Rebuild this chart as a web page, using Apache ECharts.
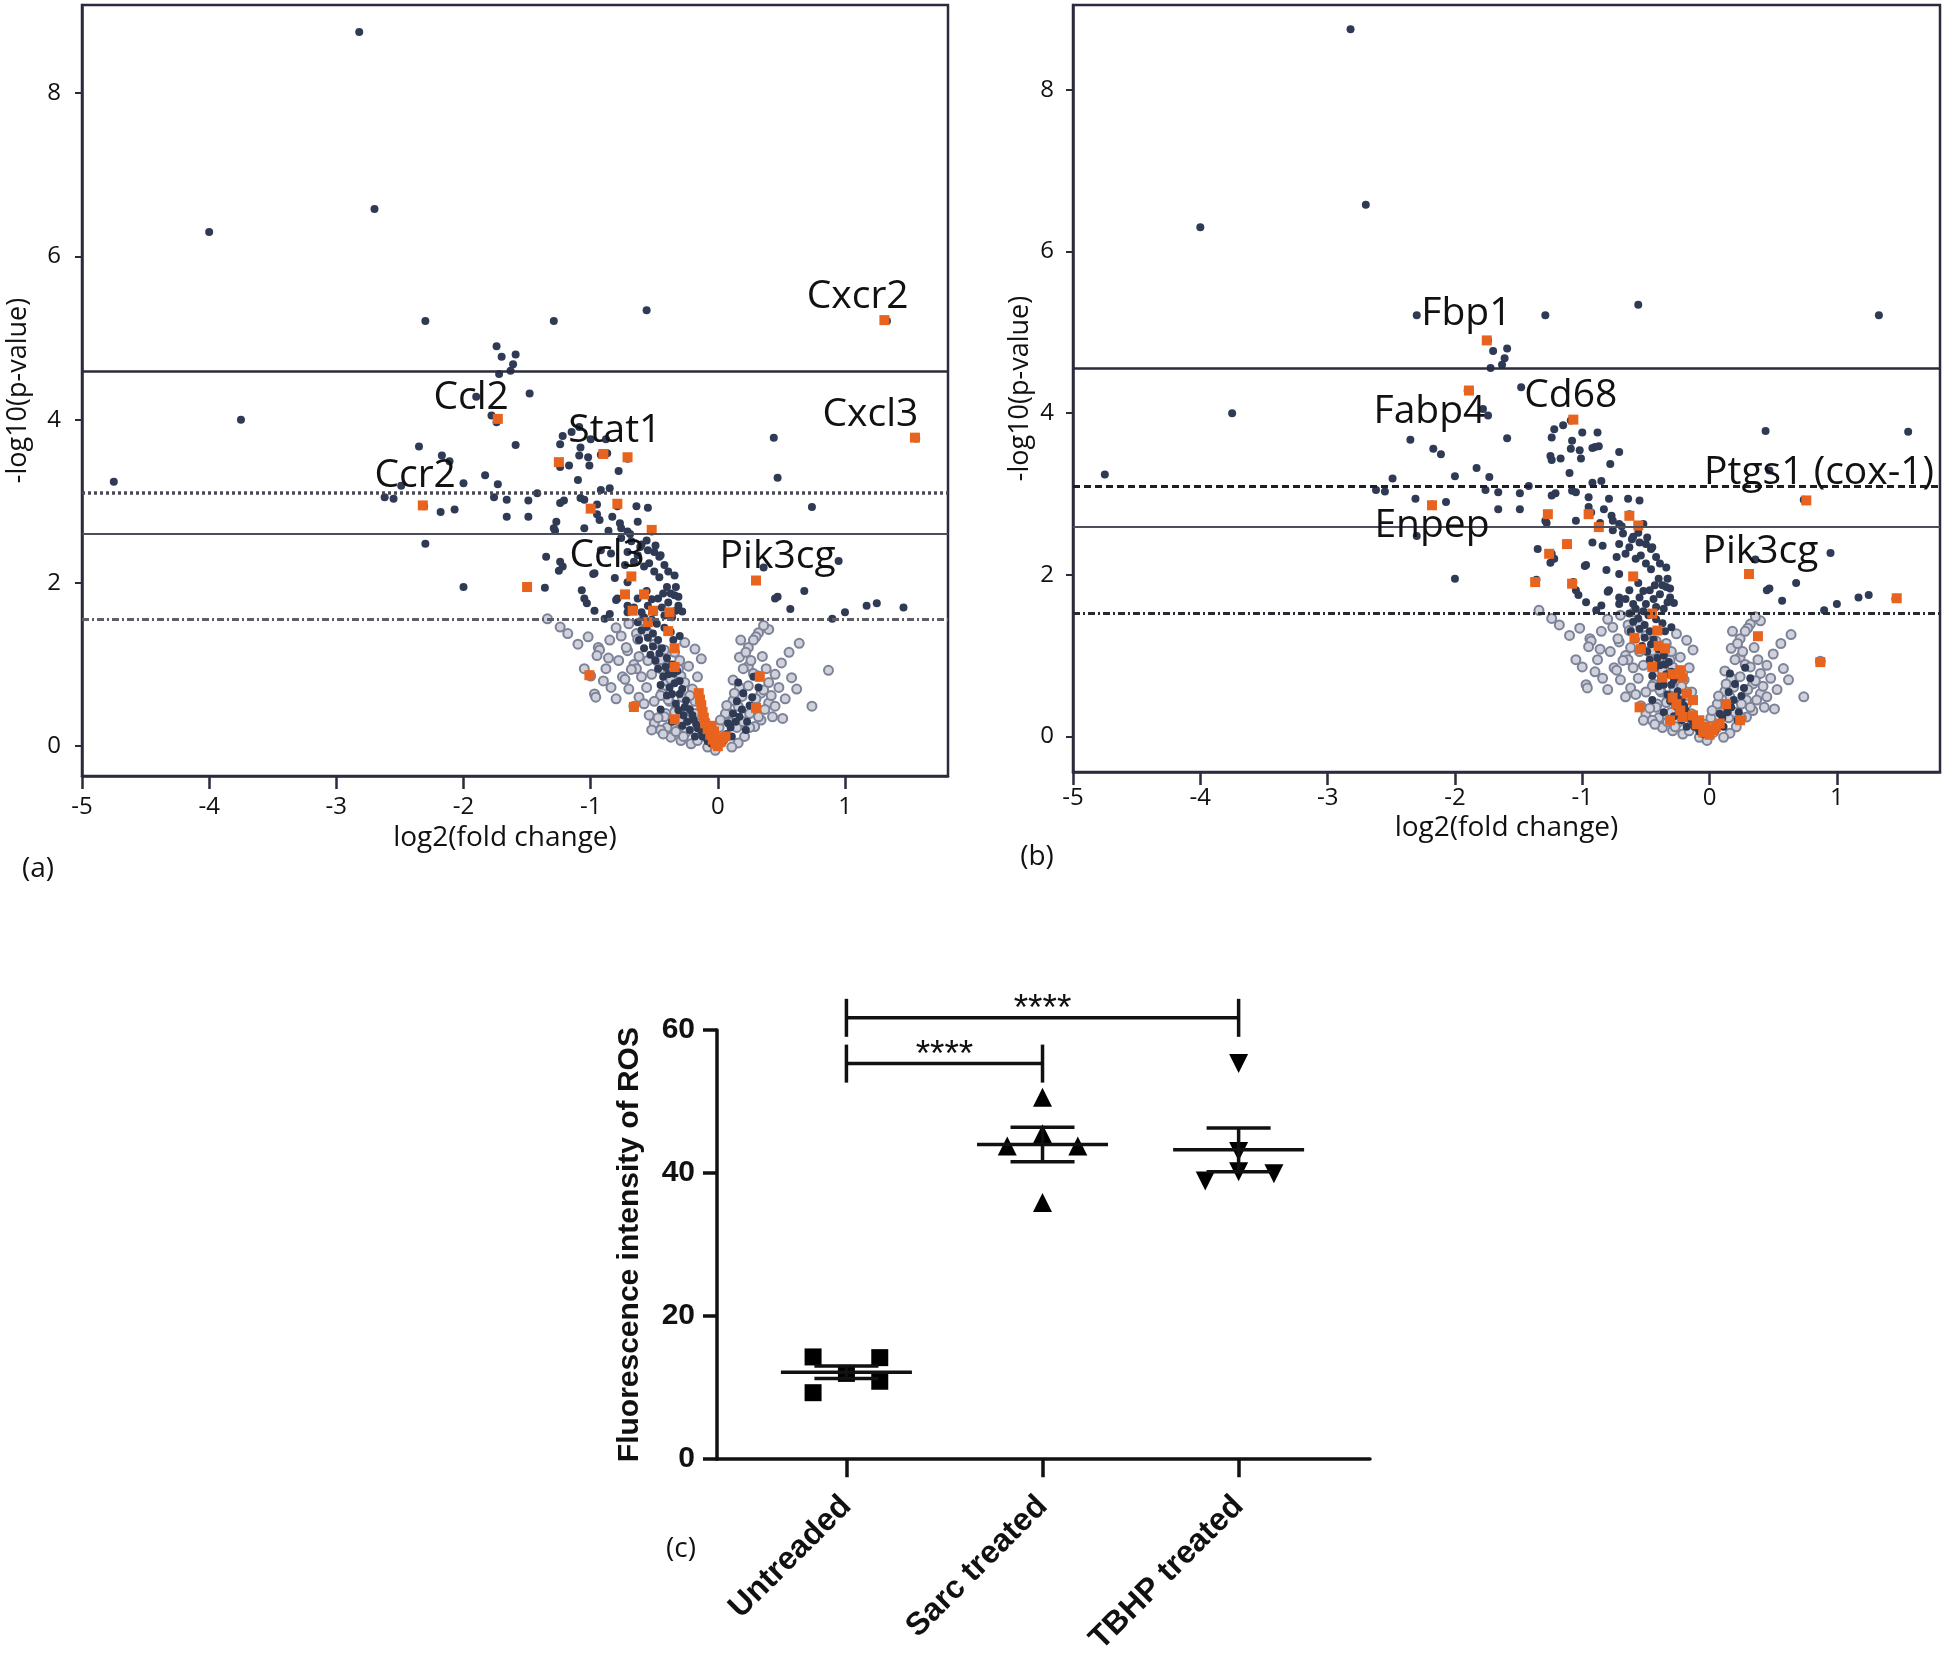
<!DOCTYPE html>
<html><head><meta charset="utf-8">
<script src="https://cdn.jsdelivr.net/npm/echarts@6/dist/echarts.min.js"></script>
<style>html,body{margin:0;padding:0;background:#fff}#c{width:1946px;height:1658px}</style>
</head><body><div id="c"></div>
<script>
// ---------- volcano data (shared gene set) ----------
const sigGenes = [
[-2.82,8.75],[-2.70,6.58],[-4.00,6.30],[-2.30,5.21],[-1.29,5.21],[-0.56,5.34],[1.33,5.21],
[-1.74,4.90],[-1.70,4.77],[-1.59,4.80],[-1.61,4.68],[-1.63,4.60],[-1.72,4.56],
[-1.48,4.32],[-1.90,4.28],[-1.78,4.05],[-1.74,3.97],[-3.75,4.00],[-4.75,3.24],[1.56,3.77],
[-1.59,3.69],[-2.35,3.67],[-2.17,3.56],[-2.11,3.49],[-2.00,3.22],[-1.83,3.32],[-1.73,3.21],
[-2.62,3.05],[-2.49,3.19],[-2.55,3.03],[-2.31,2.94],[-2.18,2.87],[-2.07,2.90],[-2.30,2.48],[-2.00,1.95],
[-1.76,3.05],[-1.66,3.02],[-1.49,3.01],[-1.42,3.10],[-1.66,2.81],[-1.49,2.81],[-1.27,2.75],[-1.28,2.64],
[-1.22,3.80],[-1.24,3.70],[-1.09,3.91],[-1.00,3.76],[-1.15,3.85],[-0.88,3.76],
[-1.25,3.47],[-1.17,3.44],[-1.09,3.56],[-1.02,3.54],[-1.01,3.44],[-0.90,3.58],[-0.71,3.52],[-0.87,3.59],[-1.24,3.42],[-1.08,3.66],[-0.92,3.57],
[-0.78,3.37],[-1.10,3.26],[-0.92,3.14],[-0.85,3.16],[-1.05,3.02],[-1.21,3.01],[-0.64,2.94],[-0.55,2.92],[-0.79,2.94],[-0.95,2.96],[-1.24,2.98],[-1.08,3.04],
[-0.93,2.77],[-0.83,2.81],[-0.77,2.73],[-0.63,2.75],[-0.86,2.64],[-0.69,2.60],[-0.56,2.52],[-0.95,2.84],[-1.05,2.67],[-1.29,2.67],[-0.76,2.67],[-0.71,2.63],[-0.52,2.63],[-0.76,2.55],[-0.68,2.51],[-0.60,2.47],[-0.55,2.40],
[-1.35,2.32],[-1.24,2.26],[-0.98,2.11],[-0.81,2.06],[-0.50,2.38],[-0.46,2.32],[-0.84,2.36],[-0.71,2.38],[-0.63,2.34],[-0.45,2.34],[-0.73,2.22],[-0.66,2.26],[-0.58,2.20],[-0.50,2.14],[-0.39,2.14],[-0.34,2.09],[-0.71,2.01],[-0.97,2.12],[-1.22,2.20],[-0.92,2.40],[-0.61,2.44],[-0.49,2.46],[-0.54,2.24],[-1.25,2.15],[-0.42,2.22],
[-1.36,1.94],[-1.07,1.91],[-1.03,1.75],[-0.85,1.62],[-1.05,1.81],[-0.97,1.66],[-0.89,1.56],[-0.79,1.81],[-0.71,1.72],[-0.63,1.81],[-0.55,1.72],[-0.47,1.81],[-0.39,1.76],[-0.34,1.85],[-0.71,1.64],[-0.60,1.64],[-0.50,1.64],[-0.42,1.60],[-0.31,1.72],[-0.63,1.52],[-0.46,2.07],[-0.43,1.87],[-0.37,1.87],[-0.31,1.83],[-0.33,1.66],[-0.33,1.95],[-0.80,1.79],[-0.56,1.90],[-0.52,1.80],[-0.44,1.70],[-0.66,1.70],[-0.58,1.58],[-0.36,1.58],[-0.28,1.65],[-0.40,1.95],
[0.44,3.78],[0.47,3.29],[0.74,2.93],[0.95,2.27],[0.36,2.19],[0.47,1.83],[0.68,1.90],[0.57,1.68],[0.90,1.56],[1.00,1.64],[1.17,1.72],[1.25,1.75],[1.46,1.70],[0.45,1.81],
[-0.56,1.46],[-0.51,1.38],[-0.62,1.30],[-0.51,1.22],[-0.46,1.14],[-0.49,1.05],[-0.41,0.97],[-0.35,0.89],[-0.43,0.85],[-0.38,0.72],[-0.30,0.64],[-0.25,0.56],[-0.33,0.52],[-0.22,0.45],[-0.27,0.38],[-0.19,0.32],[-0.16,0.22],[-0.22,0.20],[-0.12,0.12],[-0.08,0.06],[-0.30,0.80],[-0.40,0.62],[-0.45,0.45],[-0.36,0.30],[-0.28,0.25],[-0.35,1.30],[-0.42,1.45],
[-0.60,1.42],[-0.55,1.33],[-0.47,1.30],[-0.58,1.20],[-0.53,1.12],[-0.44,1.20],[-0.40,1.08],[-0.47,0.95],[-0.36,1.00],[-0.32,0.92],[-0.39,0.88],[-0.45,0.75],[-0.34,0.77],[-0.28,0.70],[-0.36,0.64],[-0.26,0.48],[-0.31,0.44],[-0.20,0.38],[-0.24,0.30],[-0.17,0.27],[-0.13,0.18],[-0.18,0.12],[-0.09,0.10],[-0.05,0.03],[-0.48,1.50],[-0.37,1.40],[-0.30,1.35],[-0.52,1.55],
[0.12,0.40],[0.17,0.36],[0.23,0.30],[0.10,0.23],[0.07,0.15],[0.15,0.55],[0.28,0.85],[0.20,0.65],[0.05,0.08],
[0.14,0.30],[0.19,0.45],[0.25,0.50],[0.22,0.20],[0.08,0.28],[0.11,0.12],[0.27,0.60],[0.32,0.72],[0.16,0.78]
];
const nsGenes = [
[-1.24,1.46],[-1.18,1.38],[-1.02,1.34],[-0.94,1.21],[-0.93,1.18],[-0.71,1.17],[-0.75,0.85],[-0.84,0.72],[-0.97,0.64],[-0.96,0.60],[-0.56,0.72],[-0.54,0.38],[-0.64,1.38],[-0.59,1.54],[-0.88,0.95],[-0.80,1.45],[-0.70,1.50],[-0.62,1.10],[-0.66,1.00],[-0.50,1.25],[-0.48,1.05],[-0.45,0.95],[-0.52,0.88],[-0.40,0.80],[-0.44,0.65],[-0.38,0.55],[-0.33,0.45],[-0.41,0.40],[-0.30,0.30],[-0.35,0.22],[-0.25,0.17],[-0.22,0.35],[-0.28,0.60],[-0.62,0.60],[-0.73,0.82],[-0.64,0.95],[-0.72,1.21],[-0.40,0.23],[-1.34,1.56],[-0.95,1.11],[-1.00,0.86],[-0.68,0.94],[-0.66,0.49],[-0.63,1.31],[-0.55,1.39],[-0.45,1.06],[-0.39,0.98],[-0.34,1.15],[-0.26,1.27],[-0.18,1.19],[-0.13,1.07],[-0.23,0.98],[-0.29,0.86],[-0.37,0.82],[-0.45,0.62],[-0.39,0.57],[-0.34,0.42],[-0.42,0.36],[-0.50,0.28],[-0.45,0.20],[-0.37,0.11],[-0.29,0.07],[-0.21,0.03],[-0.16,0.07],[-0.08,-0.01],[-0.02,-0.05],[-0.18,0.40],[-0.14,0.55],[-0.20,0.70],[-0.26,0.78],[-0.31,0.95],[-0.14,0.28],[-0.10,0.18],
[-0.85,1.30],[-0.78,1.05],[-0.70,0.70],[-0.60,0.85],[-0.58,0.52],[-0.50,0.55],[-0.47,0.35],[-0.52,0.20],[-0.43,0.15],[-0.33,0.18],[-0.27,0.12],[-0.24,0.45],[-0.18,0.55],[-0.22,0.62],[-0.16,0.85],[-0.30,1.05],[-0.42,1.18],[-0.55,1.05],[-0.76,1.35],[-0.86,1.08],[-1.10,1.25],[-0.90,0.80],[-0.80,0.58],[-1.05,0.95],
[0.32,1.39],[0.40,1.43],[0.30,1.34],[0.24,1.21],[0.17,1.09],[0.24,0.98],[0.28,0.89],[0.32,0.86],[0.40,0.78],[0.34,0.65],[0.24,0.74],[0.19,0.61],[0.16,0.49],[0.29,0.45],[0.40,0.53],[0.45,0.49],[0.34,0.32],[0.29,0.24],[0.21,0.12],[0.16,0.04],[0.11,-0.01],[0.08,0.32],[0.17,0.72],[0.12,0.56],[0.09,0.40],[0.15,0.23],[0.25,0.23],[0.32,0.36],[0.42,0.62],[0.43,0.36],[0.36,0.69],[0.64,1.26],[0.87,0.93],[0.51,0.34],[0.58,0.84],[0.50,1.02],[0.56,1.15],[0.74,0.49],[-0.04,0.15],[0.01,0.23],[0.06,0.40],[0.12,0.81],[0.03,0.05],[0.20,0.95],[0.26,1.05],
[0.18,1.30],[0.22,1.15],[0.28,1.30],[0.35,1.10],[0.38,0.95],[0.30,0.58],[0.25,0.40],[0.37,0.45],[0.20,0.30],[0.13,0.65],[0.45,0.88],[0.48,0.72],[0.53,0.58],[0.62,0.70],[0.07,0.50],[0.02,0.32],[0.36,1.48]
];
const highlightA = [
[1.31,5.22],[1.55,3.78],[-1.73,4.01],[-2.32,2.95],[-1.25,3.48],[-0.90,3.58],[-0.71,3.54],[-1.00,2.91],[-0.79,2.97],[-0.52,2.65],[-0.68,2.08],[-1.50,1.95],[0.30,2.03],
[-0.73,1.86],[-0.58,1.86],[-0.67,1.66],[-0.51,1.66],[-0.38,1.64],[-0.55,1.52],[-0.39,1.41],[-0.34,1.20],[-0.34,0.97],[-1.01,0.87],[-0.66,0.48],[-0.34,0.33],[0.33,0.85],[0.30,0.47],
[-0.15,0.65],[-0.14,0.57],[-0.13,0.50],[-0.12,0.42],[-0.11,0.35],[-0.10,0.28],[-0.08,0.21],[-0.06,0.14],[-0.04,0.08],[-0.02,0.03],[0.00,0.00],[0.02,0.05],[0.04,0.10],[0.06,0.12],[-0.01,0.06],[-0.03,0.18],[-0.05,0.25]
];
const highlightB = [
[-1.75,4.90],[-1.89,4.28],[-1.07,3.92],[0.76,2.92],[0.31,2.01],[-2.18,2.86],
[-1.27,2.75],[-0.95,2.75],[-0.87,2.59],[-0.63,2.73],[-0.56,2.61],[-1.12,2.38],[-1.26,2.26],[-1.37,1.91],[-1.08,1.89],[-0.60,1.98],[-0.45,1.52],[-0.41,1.31],[-0.59,1.22],[-0.54,1.08],[-0.40,1.12],[-0.35,1.09],[-0.45,0.86],[-0.37,0.73],[-0.29,0.77],[-0.23,0.82],[-0.21,0.73],[-0.29,0.48],[-0.26,0.40],[-0.18,0.53],[-0.13,0.45],[-0.23,0.32],[-0.55,0.36],[-0.31,0.20],[-0.21,0.24],[-0.13,0.26],[-0.08,0.20],[-0.03,0.12],[0.00,0.02],[0.03,0.08],[0.08,0.16],[0.13,0.40],[0.24,0.20],[0.38,1.24],[0.87,0.92],[1.47,1.71],[-0.05,0.05],[-0.10,0.15],[0.05,0.12]
];
const labelsA = [['Cxcr2',1.10,5.51],['Cxcl3',1.20,4.06],['Ccl2',-1.94,4.27],['Stat1',-0.81,3.86],['Ccr2',-2.38,3.31],['Ccl3',-0.87,2.33],['Pik3cg',0.47,2.32]];
const labelsB = [['Fbp1',-1.91,5.23],['Fabp4',-2.20,4.02],['Cd68',-1.09,4.21],['Ptgs1 (cox-1)',0.86,3.26],['Enpep',-2.18,2.60],['Pik3cg',0.40,2.28]];
const thresholdsA = [4.59, 3.10, 2.60, 1.55];
const thresholdsB = [4.55, 3.09, 2.60, 1.52];
const volcanoXTicks = [-5,-4,-3,-2,-1,0,1];
const volcanoYTicks = [0,2,4,6,8];

// ---------- ROS data ----------
const groups = ['Untreaded','Sarc treated','TBHP treated'];
const untreated = [14.3, 14.2, 12.0, 10.9, 9.3];
const sarc = [50.6, 43.8, 45.5, 43.8, 35.9];
const tbhp = [55.3, 38.9, 40.2, 39.9, 43.0];
const groupMeans = [12.15, 44.0, 43.25];
const groupSems = [0.87, 2.42, 3.05];
const comparisons = [[0,1,'****'],[0,2,'****']];
const bracketLevels = [55.3, 61.7];

// layout-only horizontal spread of replicate markers
const spreadU = [-0.17, 0.17, 0, 0.17, -0.17];
const spreadS = [0, -0.18, 0, 0.18, 0];
const spreadT = [0, -0.17, 0, 0.18, 0];

const FONT = 'Open Sans';
const BOX = '#2b2b3d';
const chart = echarts.init(document.getElementById('c'));

function refLines(th, dark) {
  const st = [
    {type:'solid', width:2.5, color:BOX},
    {type: dark ? [7,4] : [3,3], width: dark ? 3 : 3.5, color: dark ? '#1e1e28' : '#4a4a55'},
    {type:'solid', width:2, color:'#4e4e5a'},
    {type:[7,3,2,3], width:3, color: dark ? '#2a2a35' : '#5e5e68'}
  ];
  return {silent:true, symbol:['none','none'], label:{show:false}, animation:false,
    data: th.map((v,i)=>({yAxis:v, lineStyle:st[i]}))};
}
function volcanoX(idx, margin, gap, pad) {
  return {gridIndex:idx, type:'value', min:-5, max:1.81,
    axisLine:{show:true, onZero:false, lineStyle:{color:BOX, width:2.5}},
    axisTick:{show:true, length:13, customValues:volcanoXTicks, lineStyle:{color:BOX, width:2.5}},
    axisLabel:{customValues:volcanoXTicks, fontFamily:FONT, fontSize:24, color:'#111', margin:margin},
    splitLine:{show:false},
    name:'log2(fold change)', nameLocation:'middle', nameGap:gap,
    nameTextStyle:{fontFamily:FONT, fontSize:28, color:'#111', padding:pad}};
}
function volcanoY(idx, min, max, margin, gap) {
  return {gridIndex:idx, type:'value', min:min, max:max,
    axisLine:{show:true, onZero:false, lineStyle:{color:BOX, width:2.5}},
    axisTick:{show:true, length:7, customValues:volcanoYTicks, lineStyle:{color:BOX, width:2}},
    axisLabel:{customValues:volcanoYTicks, fontFamily:FONT, fontSize:24, color:'#111', margin:margin},
    splitLine:{show:false},
    name:'-log10(p-value)', nameLocation:'middle', nameGap:gap,
    nameTextStyle:{fontFamily:FONT, fontSize:27, color:'#111'}};
}
function volcanoSeries(idx, highlight, labels, th, dark) {
  return [
    {type:'scatter', xAxisIndex:idx, yAxisIndex:idx, data:nsGenes, symbol:'circle', symbolSize:9,
     itemStyle:{color:'#cfd1db', borderColor:'#7d8298', borderWidth:2, opacity:1}, z:2, markLine:refLines(th, dark)},
    {type:'scatter', xAxisIndex:idx, yAxisIndex:idx, data:sigGenes, symbol:'circle', symbolSize:8,
     itemStyle:{color:'#2f3a55', opacity:1}, z:3},
    {type:'scatter', xAxisIndex:idx, yAxisIndex:idx, data:highlight, symbol:'rect', symbolSize:10,
     itemStyle:{color:'#e8641e', opacity:1}, z:4},
    {type:'scatter', xAxisIndex:idx, yAxisIndex:idx, symbolSize:1, itemStyle:{color:'rgba(0,0,0,0)'}, z:6, silent:true,
     data: labels.map(l=>({name:l[0], value:[l[1], l[2]]})),
     label:{show:true, position:'inside', formatter:'{b}', fontFamily:FONT, fontSize:39, color:'#111', opacity:1}}
  ];
}
function pts(vals, spread, gi) { return vals.map((v,i)=>[gi + spread[i], v]); }

const option = {
  animation:false,
  backgroundColor:'#fff',
  grid:[
    {left:82, top:5, width:866, height:771, show:true, borderColor:BOX, borderWidth:2.5, backgroundColor:'transparent'},
    {left:1073, top:5, width:867, height:767, show:true, borderColor:BOX, borderWidth:2.5, backgroundColor:'transparent'},
    {left:717, top:1030, width:653, height:436}
  ],
  xAxis:[
    volcanoX(0, 19, 48, [0,20,0,0]),
    volcanoX(1, 14, 42, 0),
    {gridIndex:2, type:'value', min:-0.66, max:2.67,
     axisLine:{show:true, onZero:false, lineStyle:{color:'#111', width:3.5}},
     axisTick:{show:true, length:18, customValues:[0,1,2], lineStyle:{color:'#111', width:3.5}},
     axisLabel:{customValues:[0,1,2], rotate:45, margin:42, formatter:v=>groups[Math.round(v)],
       fontFamily:'Liberation Sans', fontWeight:'bold', fontSize:32, color:'#111'},
     splitLine:{show:false}}
  ],
  yAxis:[
    volcanoY(0, -0.365, 9.08, 21, 50),
    volcanoY(1, -0.44, 9.05, 19, 39),
    {gridIndex:2, type:'value', min:0, max:60, interval:20,
     axisLine:{show:true, onZero:false, lineStyle:{color:'#111', width:3.5}},
     axisTick:{show:true, length:14, lineStyle:{color:'#111', width:3.5}},
     axisLabel:{fontFamily:'Liberation Sans', fontWeight:'bold', fontSize:30, color:'#111', margin:22},
     splitLine:{show:false},
     name:'Fluorescence intensity of ROS', nameLocation:'middle', nameGap:72,
     nameTextStyle:{fontFamily:'Liberation Sans', fontWeight:'bold', fontSize:30, color:'#111'}}
  ],
  graphic:[
    {type:'text', x:38, y:869, style:{text:'(a)', fontFamily:FONT, fontSize:28, fill:'#111', align:'center', verticalAlign:'middle'}},
    {type:'text', x:1037, y:857, style:{text:'(b)', fontFamily:FONT, fontSize:28, fill:'#111', align:'center', verticalAlign:'middle'}},
    {type:'text', x:681, y:1549, style:{text:'(c)', fontFamily:FONT, fontSize:28, fill:'#111', align:'center', verticalAlign:'middle'}}
  ],
  series:[
    ...volcanoSeries(0, highlightA, labelsA, thresholdsA, false),
    ...volcanoSeries(1, highlightB, labelsB, thresholdsB, true),
    {type:'scatter', xAxisIndex:2, yAxisIndex:2, data:pts(untreated, spreadU, 0), symbol:'rect', symbolSize:17, itemStyle:{color:'#000', opacity:1}, z:3},
    {type:'scatter', xAxisIndex:2, yAxisIndex:2, data:pts(sarc, spreadS, 1), symbol:'triangle', symbolSize:19, itemStyle:{color:'#000', opacity:1}, z:3},
    {type:'scatter', xAxisIndex:2, yAxisIndex:2, data:pts(tbhp, spreadT, 2), symbol:'triangle', symbolRotate:180, symbolSize:19, itemStyle:{color:'#000', opacity:1}, z:3},
    {type:'custom', xAxisIndex:2, yAxisIndex:2, z:5,
     data: groupMeans.map((m,i)=>[i, m, groupSems[i]]),
     renderItem:(params, api)=>{
       const x=api.value(0), m=api.value(1), s=api.value(2);
       const a=api.coord([x-0.334,m]), b=api.coord([x+0.334,m]);
       const t=api.coord([x,m+s]), bo=api.coord([x,m-s]);
       const cw=32, st={stroke:'#111', lineWidth:3.5};
       return {type:'group', children:[
         {type:'line', shape:{x1:a[0],y1:a[1],x2:b[0],y2:b[1]}, style:st},
         {type:'line', shape:{x1:t[0],y1:t[1],x2:bo[0],y2:bo[1]}, style:st},
         {type:'line', shape:{x1:t[0]-cw,y1:t[1],x2:t[0]+cw,y2:t[1]}, style:st},
         {type:'line', shape:{x1:bo[0]-cw,y1:bo[1],x2:bo[0]+cw,y2:bo[1]}, style:st}
       ]};
     }},
    {type:'custom', xAxisIndex:2, yAxisIndex:2, z:5, clip:false,
     data: comparisons.map((c,i)=>[c[0], c[1], bracketLevels[i]]),
     renderItem:(params, api)=>{
       const p1=api.coord([api.value(0), api.value(2)]), p2=api.coord([api.value(1), api.value(2)]);
       const h=19, st={stroke:'#111', lineWidth:3.5};
       return {type:'group', children:[
         {type:'line', shape:{x1:p1[0],y1:p1[1]-h,x2:p1[0],y2:p1[1]+h}, style:st},
         {type:'line', shape:{x1:p1[0],y1:p1[1],x2:p2[0],y2:p2[1]}, style:st},
         {type:'line', shape:{x1:p2[0],y1:p2[1]-h,x2:p2[0],y2:p2[1]+h}, style:st},
         {type:'text', x:(p1[0]+p2[0])/2, y:p1[1]-8, style:{text:comparisons[params.dataIndex][2], fontFamily:'Liberation Sans', fontSize:37, fill:'#111', align:'center', verticalAlign:'middle', textAlign:'center', textVerticalAlign:'middle'}}
       ]};
     }}
  ]
};
chart.setOption(option);
</script></body></html>
